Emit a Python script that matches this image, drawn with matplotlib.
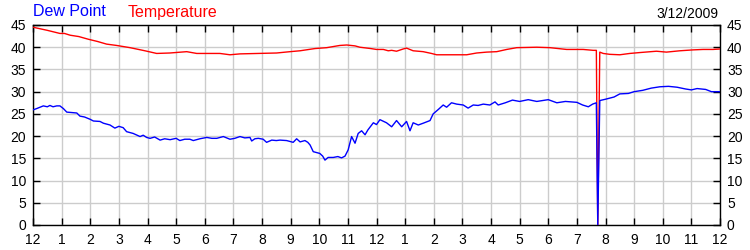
import matplotlib
matplotlib.use("Agg")
import matplotlib.pyplot as plt

# ---- data (hours since midnight) ----
temp_hours = [0, 0.5, 0.94, 1.1, 1.3, 1.6, 1.93, 2.25, 2.57, 2.92, 3.39, 3.91, 4.32, 4.78,
              5.37, 5.72, 6.18, 6.53, 6.88, 7.23, 7.86, 8.51, 8.98, 9.33, 9.85, 10.26,
              10.72, 10.96, 11.25, 11.42, 11.8, 12.0, 12.24, 12.41, 12.53, 12.7, 12.93,
              13.05, 13.28, 13.63, 13.92, 14.1, 14.56, 15.15, 15.5, 15.85, 16.2, 16.55,
              16.9, 17.6, 18.06, 18.64, 19.22, 19.57, 19.68, 19.73, 19.8, 19.92, 20.15,
              20.5, 20.85, 21.2, 21.78, 22.13, 22.6, 23.06, 23.41, 23.76, 24.0]
temperature = [44.5, 43.8, 43.1, 43.1, 42.7, 42.4, 41.8, 41.3, 40.7, 40.4, 39.9, 39.2,
               38.6, 38.7, 39.0, 38.6, 38.6, 38.6, 38.3, 38.5, 38.6, 38.7, 39.0, 39.2,
               39.7, 39.9, 40.4, 40.5, 40.3, 40.0, 39.7, 39.5, 39.5, 39.2, 39.3, 39.1,
               39.6, 39.8, 39.2, 39.0, 38.6, 38.3, 38.3, 38.3, 38.7, 38.9, 39.0, 39.5,
               39.9, 40.0, 39.9, 39.5, 39.5, 39.3, 39.3, 0.0, 38.9, 38.6, 38.4, 38.3,
               38.6, 38.8, 39.1, 38.9, 39.2, 39.4, 39.5, 39.5, 39.6]

dew_hours = [0, 0.13, 0.36, 0.5, 0.59, 0.7, 0.83, 0.94, 1.06, 1.18, 1.35, 1.53, 1.64, 1.8,
             1.99, 2.11, 2.34, 2.46, 2.69, 2.86, 3.0, 3.15, 3.27, 3.5, 3.74, 3.85, 3.97,
             4.09, 4.25, 4.44, 4.6, 4.79, 5.0, 5.13, 5.3, 5.48, 5.6, 5.83, 6.07, 6.25,
             6.42, 6.65, 6.88, 7.05, 7.23, 7.4, 7.58, 7.64, 7.75, 7.87, 8.04, 8.16, 8.34,
             8.5, 8.63, 8.86, 9.09, 9.21, 9.33, 9.5, 9.6, 9.68, 9.79, 10.02, 10.12, 10.2,
             10.31, 10.49, 10.65, 10.78, 10.9, 11.01, 11.13, 11.25, 11.36, 11.48, 11.6,
             11.7, 11.89, 12.0, 12.12, 12.35, 12.53, 12.7, 12.88, 13.05, 13.17, 13.28,
             13.46, 13.63, 13.87, 13.98, 14.16, 14.33, 14.45, 14.62, 14.8, 15.03, 15.2,
             15.38, 15.55, 15.73, 15.96, 16.14, 16.25, 16.5, 16.75, 17.0, 17.3, 17.6,
             18.0, 18.3, 18.6, 19.0, 19.2, 19.4, 19.55, 19.68, 19.73, 19.8, 20.0, 20.3,
             20.5, 20.8, 21.0, 21.3, 21.6, 21.9, 22.2, 22.5, 22.8, 23.0, 23.2, 23.5,
             23.7, 24.0]
dew_point = [25.9, 26.2, 26.8, 26.6, 26.9, 26.6, 26.8, 26.8, 26.2, 25.4, 25.3, 25.2, 24.5,
             24.3, 23.8, 23.4, 23.3, 22.9, 22.5, 21.8, 22.2, 21.9, 21.0, 20.6, 19.9, 20.2,
             19.7, 19.5, 19.8, 19.1, 19.4, 19.2, 19.5, 19.0, 19.3, 19.3, 19.0, 19.4, 19.7,
             19.5, 19.5, 19.9, 19.3, 19.5, 19.9, 19.6, 19.7, 18.9, 19.4, 19.5, 19.3, 18.6,
             19.1, 19.0, 19.1, 19.0, 18.6, 19.4, 18.7, 19.0, 18.6, 18.0, 16.5, 16.1, 15.5,
             14.6, 15.2, 15.2, 15.4, 15.1, 15.5, 16.9, 19.9, 18.4, 20.6, 21.2, 20.3, 21.4,
             23.0, 22.6, 23.7, 23.0, 22.1, 23.5, 22.1, 23.3, 21.2, 23.0, 22.5, 22.9, 23.5,
             25.0, 26.0, 27.0, 26.5, 27.5, 27.2, 27.0, 26.3, 27.0, 26.9, 27.2, 27.0, 27.7,
             27.0, 27.5, 28.1, 27.8, 28.2, 27.8, 28.2, 27.5, 27.8, 27.6, 27.0, 26.6, 27.2,
             27.5, 0.0, 28.0, 28.3, 28.8, 29.5, 29.6, 30.0, 30.3, 30.8, 31.1, 31.2, 31.0,
             30.6, 30.4, 30.7, 30.5, 30.0, 30.0]

hour_labels = ["12", "1", "2", "3", "4", "5", "6", "7", "8", "9", "10", "11",
               "12", "1", "2", "3", "4", "5", "6", "7", "8", "9", "10", "11", "12"]
y_ticks = [0, 5, 10, 15, 20, 25, 30, 35, 40, 45]
date_text = "3/12/2009"

plt.rcParams['font.family'] = ['Liberation Sans', 'DejaVu Sans']

fig = plt.figure(figsize=(7.5, 2.5), dpi=100)
ax = fig.add_axes([33 / 750, 25 / 250, 687 / 750, 200 / 250])

ax.plot(temp_hours, temperature, color='#ff0000', lw=1.0, zorder=3)
ax.plot(dew_hours, dew_point, color='#0000ff', lw=1.0, zorder=3)

ax.set_xlim(0, 24)
ax.set_ylim(0, 45)
ax.set_xticks(range(25))
ax.set_xticklabels(hour_labels)
ax.set_yticks(y_ticks)

ax.grid(True, color='#cccccc', lw=1.0, zorder=0)
ax.set_axisbelow(True)
for s in ax.spines.values():
    s.set_color('black')
    s.set_linewidth(1.0)

ax.tick_params(axis='x', which='both', direction='in', length=5, width=1,
               top=True, bottom=True, labelsize=10, pad=6, colors='black')
ax.tick_params(axis='y', which='both', direction='in', length=5, width=1,
               left=True, right=True, labelleft=True, labelright=True,
               labelsize=10, pad=5, colors='black')

fig.text(33 / 750, 1 - 12 / 250, "Dew Point", color='#0000ff', fontsize=11.5,
         ha='left', va='center')
fig.text(128 / 750, 1 - 12 / 250, "Temperature", color='#ff0000', fontsize=11.5,
         ha='left', va='center')
fig.text(718 / 750, 1 - 14 / 250, date_text, color='black', fontsize=10,
         ha='right', va='center')

fig.savefig("out.png", dpi=100)
